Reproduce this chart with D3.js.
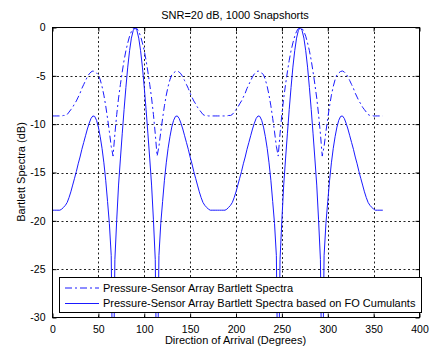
<!DOCTYPE html>
<html>
<head>
<meta charset="utf-8">
<script src="https://cdn.jsdelivr.net/npm/d3@7"></script>
<style>
html,body{margin:0;padding:0;background:#fff;}
svg text{font-family:Arial,"Liberation Sans",sans-serif;fill:#000;}
</style>
</head>
<body>
<svg id="c" width="430" height="349"></svg>
<script>
// ---- data ----
const title = "SNR=20 dB, 1000 Snapshorts";
const xLabel = "Direction of Arrival (Degrees)";
const yLabel = "Bartlett Spectra (dB)";
const xTicks = [0, 50, 100, 150, 200, 250, 300, 350, 400];
const yTicks = [0, -5, -10, -15, -20, -25, -30];
const seriesNames = ["Pressure-Sensor Array Bartlett Spectra",
                     "Pressure-Sensor Array Bartlett Spectra based on FO Cumulants"];
const angles = d3.range(0, 361, 2);
const bartlett = [
 -9.15,-9.15,-9.15,-9.15,-9.15,-9.15,-9.1,-9.1,-9.0,-8.75,-8.5,-8.25,-7.9,-7.6,-7.2,-6.8,-6.3,-5.9,-5.5,-5.1,-4.8,-4.6,-4.5,-4.55,-4.7,-4.9,-5.4,-6.1,-7.0,-8.1,-9.4,-10.8,-12.3,-13.3,-11.0,-9.0,-7.3,-5.9,-4.6,-3.4,-2.4,-1.6,-0.9,-0.4,-0.1,0,
 -0.1,-0.4,-0.9,-1.6,-2.4,-3.4,-4.6,-5.9,-7.3,-9.0,-11.0,-13.3,-12.3,-10.8,-9.4,-8.1,-7.0,-6.1,-5.4,-4.9,-4.7,-4.55,-4.5,-4.6,-4.8,-5.1,-5.5,-5.9,-6.3,-6.8,-7.2,-7.6,-7.9,-8.25,-8.5,-8.75,-9.0,-9.1,-9.1,-9.15,-9.15,-9.15,-9.15,-9.15,-9.15,
 -9.15,-9.15,-9.15,-9.15,-9.15,-9.1,-9.1,-9.0,-8.75,-8.5,-8.25,-7.9,-7.6,-7.2,-6.8,-6.3,-5.9,-5.5,-5.1,-4.8,-4.6,-4.5,-4.55,-4.7,-4.9,-5.4,-6.1,-7.0,-8.1,-9.4,-10.8,-12.3,-13.3,-11.0,-9.0,-7.3,-5.9,-4.6,-3.4,-2.4,-1.6,-0.9,-0.4,-0.1,0,
 -0.1,-0.4,-0.9,-1.6,-2.4,-3.4,-4.6,-5.9,-7.3,-9.0,-11.0,-13.3,-12.3,-10.8,-9.4,-8.1,-7.0,-6.1,-5.4,-4.9,-4.7,-4.55,-4.5,-4.6,-4.8,-5.1,-5.5,-5.9,-6.3,-6.8,-7.2,-7.6,-7.9,-8.25,-8.5,-8.75,-9.0,-9.1,-9.1,-9.15,-9.15,-9.15,-9.15,-9.15,-9.15
];
const cumulant = [
 -18.9,-18.9,-18.9,-18.9,-18.9,-18.8,-18.6,-18.4,-18.1,-17.6,-17.0,-16.3,-15.6,-14.9,-14.1,-13.4,-12.6,-11.9,-11.2,-10.5,-9.9,-9.4,-9.15,-9.2,-9.6,-10.3,-11.3,-12.5,-14.0,-15.8,-18.0,-20.3,-23.6,-40,-24.0,-19.9,-16.3,-13.6,-11.0,-8.5,-6.2,-4.1,-2.4,-1.1,-0.3,0,
 -0.3,-1.1,-2.4,-4.1,-6.2,-8.5,-11.0,-13.6,-16.3,-19.9,-24.0,-40,-23.6,-20.3,-18.0,-15.8,-14.0,-12.5,-11.3,-10.3,-9.6,-9.2,-9.15,-9.4,-9.9,-10.5,-11.2,-11.9,-12.6,-13.4,-14.1,-14.9,-15.6,-16.3,-17.0,-17.6,-18.1,-18.4,-18.6,-18.8,-18.9,-18.9,-18.9,-18.9,-18.9,
 -18.9,-18.9,-18.9,-18.9,-18.8,-18.6,-18.4,-18.1,-17.6,-17.0,-16.3,-15.6,-14.9,-14.1,-13.4,-12.6,-11.9,-11.2,-10.5,-9.9,-9.4,-9.15,-9.2,-9.6,-10.3,-11.3,-12.5,-14.0,-15.8,-18.0,-20.3,-23.6,-40,-24.0,-19.9,-16.3,-13.6,-11.0,-8.5,-6.2,-4.1,-2.4,-1.1,-0.3,0,
 -0.3,-1.1,-2.4,-4.1,-6.2,-8.5,-11.0,-13.6,-16.3,-19.9,-24.0,-40,-23.6,-20.3,-18.0,-15.8,-14.0,-12.5,-11.3,-10.3,-9.6,-9.2,-9.15,-9.4,-9.9,-10.5,-11.2,-11.9,-12.6,-13.4,-14.1,-14.9,-15.6,-16.3,-17.0,-17.6,-18.1,-18.4,-18.6,-18.8,-18.9,-18.9,-18.9,-18.9,-18.9
];

// ---- layout ----
const L = 52.5, R = 419.5, T = 27.5, B = 317.5;
const svg = d3.select("#c");
const x = d3.scaleLinear().domain([0, 400]).range([L, R]);
const y = d3.scaleLinear().domain([-30, 0]).range([B, T]);
const blue = "#1a1aff";

svg.append("rect").attr("x", 0).attr("y", 0).attr("width", 430).attr("height", 349).attr("fill", "#fff");

// grid
const grid = svg.append("g").attr("stroke", "#222").attr("stroke-width", 1).attr("stroke-dasharray", "2,2.5");
xTicks.filter(t => t > 0 && t < 400).forEach(t => {
  grid.append("line").attr("x1", Math.round(x(t)) + 0.5).attr("x2", Math.round(x(t)) + 0.5).attr("y1", T).attr("y2", B);
});
yTicks.filter(t => t < 0 && t > -30).forEach(t => {
  grid.append("line").attr("y1", Math.round(y(t)) + 0.5).attr("y2", Math.round(y(t)) + 0.5).attr("x1", L).attr("x2", R);
});

// axes (ticks inward)
const axB = d3.axisBottom(x).tickValues(xTicks).tickSizeInner(-4).tickSizeOuter(0).tickPadding(8).tickFormat(d => String(d));
const axL = d3.axisLeft(y).tickValues(yTicks).tickSizeInner(-4).tickSizeOuter(0).tickPadding(7).tickFormat(d => String(d));
const gB = svg.append("g").attr("transform", `translate(0,${B})`).call(axB);
const gL = svg.append("g").attr("transform", `translate(${L},0)`).call(axL);
const axT = d3.axisTop(x).tickValues(xTicks).tickSizeInner(-4).tickSizeOuter(0).tickFormat("");
const axR = d3.axisRight(y).tickValues(yTicks).tickSizeInner(-4).tickSizeOuter(0).tickFormat("");
const gT = svg.append("g").attr("transform", `translate(0,${T})`).call(axT);
const gR = svg.append("g").attr("transform", `translate(${R},0)`).call(axR);
[gB, gL, gT, gR].forEach(g => {
  g.select(".domain").remove();
  g.selectAll("line").attr("stroke", "#000");
  g.selectAll("text").attr("font-size", 10.5).attr("font-family", "Arial, 'Liberation Sans', sans-serif").attr("fill", "#000");
});

// clip
svg.append("clipPath").attr("id", "clip").append("rect").attr("x", L).attr("y", T).attr("width", R - L).attr("height", B - T);

const line = d3.line().x(d => x(d[0])).y(d => y(d[1]));
const plot = svg.append("g").attr("clip-path", "url(#clip)");
plot.append("path").datum(angles.map((a, i) => [a, bartlett[i]]))
  .attr("d", line).attr("fill", "none").attr("stroke", blue).attr("stroke-width", 1)
  .attr("stroke-dasharray", "7,3,2,3");
plot.append("path").datum(angles.map((a, i) => [a, cumulant[i]]))
  .attr("d", line).attr("fill", "none").attr("stroke", blue).attr("stroke-width", 1);

// frame
svg.append("rect").attr("x", L).attr("y", T).attr("width", R - L).attr("height", B - T)
  .attr("fill", "none").attr("stroke", "#000").attr("stroke-width", 1);

// title and labels
svg.append("text").attr("x", 235).attr("y", 19).attr("text-anchor", "middle").attr("font-size", 11).text(title);
svg.append("text").attr("x", 235.5).attr("y", 344).attr("text-anchor", "middle").attr("font-size", 11).text(xLabel);
svg.append("text").attr("transform", "translate(25,172) rotate(-90)").attr("text-anchor", "middle").attr("font-size", 11).text(yLabel);

// legend
const lg = svg.append("g");
lg.append("rect").attr("x", 59.5).attr("y", 277.5).attr("width", 362).attr("height", 35)
  .attr("fill", "#fff").attr("stroke", "#000").attr("stroke-width", 1);
const rows = [288, 303.5];
seriesNames.forEach((n, i) => {
  lg.append("line").attr("x1", 65).attr("x2", 99).attr("y1", rows[i]).attr("y2", rows[i])
    .attr("stroke", blue).attr("stroke-width", 1).attr("stroke-dasharray", i === 0 ? "7,3,2,3" : null);
  lg.append("text").attr("x", 103).attr("y", rows[i]).attr("dy", "0.35em").attr("font-size", 11).text(n);
});
</script>
</body>
</html>
